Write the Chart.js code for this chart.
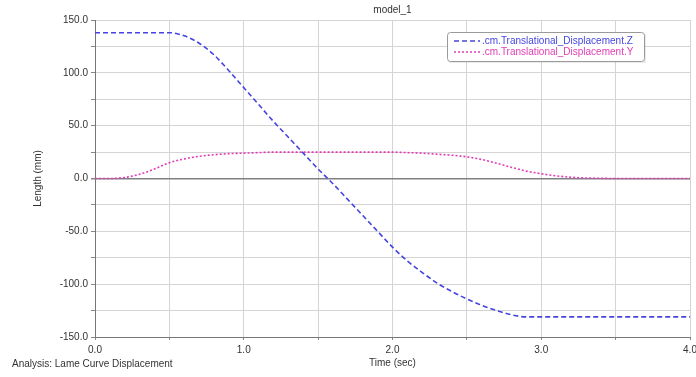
<!DOCTYPE html>
<html>
<head>
<meta charset="utf-8">
<script src="https://cdn.jsdelivr.net/npm/chart.js@4/dist/chart.umd.min.js"></script>
<style>
  html, body { margin: 0; padding: 0; background: #fff; }
  #wrap { width: 696px; height: 377px; position: relative; }
</style>
</head>
<body>
<div id="wrap"><canvas id="dispChart"></canvas></div>
<script>
// Time axis (sec) and the two displacement curves (mm)
const times = [0.0, 0.1, 0.2, 0.3, 0.4, 0.5, 0.6, 0.7, 0.8, 0.9, 1.0,
               1.1, 1.2, 1.3, 1.4, 1.5, 1.6, 1.7, 1.8, 1.9, 2.0,
               2.1, 2.2, 2.3, 2.4, 2.5, 2.6, 2.7, 2.8, 2.9, 3.0,
               3.1, 3.2, 3.3, 3.4, 3.5, 3.6, 3.7, 3.8, 3.9, 4.0];
const dispZ = [138, 138, 138, 138, 138, 138, 135, 128, 117, 102, 86,
               70, 54, 39, 24, 9, -5, -20, -35, -50, -65,
               -78, -89, -99, -107, -114, -120, -125, -129, -131, -131,
               -131, -131, -131, -131, -131, -131, -131, -131, -131, -131];
const dispY = [0, 0, 1, 4, 9, 15, 18.5, 21, 22.5, 23.5, 24,
               24.5, 25, 25, 25, 25, 25, 25, 25, 25, 25,
               24.5, 24, 23, 22, 20.5, 18, 14.5, 10.5, 7, 4.5,
               2.5, 1.2, 0.5, 0.2, 0, 0, 0, 0, 0, 0];
const seriesNames = ['.cm.Translational_Displacement.Z', '.cm.Translational_Displacement.Y'];
const xTicks = [0, 0.5, 1, 1.5, 2, 2.5, 3, 3.5, 4];
const yTicks = [-150, -125, -100, -75, -50, -25, 0, 25, 50, 75, 100, 125, 150];

const zColor = '#4545e0';
const yColor = '#e23cb4';
const FONT = 'Liberation Sans, Arial, sans-serif';

// legend box in the upper right + footnote text
const extrasPlugin = {
  id: 'extras',
  afterDraw(chart) {
    const ctx = chart.ctx;
    ctx.save();
    // legend frame
    const bx = 447, by = 32, bw = 197, bh = 29;
    ctx.fillStyle = 'rgba(0,0,0,0.08)';
    ctx.fillRect(bx + 2, by + 2, bw, bh);
    ctx.fillStyle = '#fff';
    ctx.strokeStyle = '#9a9a9a';
    ctx.lineWidth = 1;
    ctx.beginPath();
    ctx.roundRect(bx + 0.5, by + 0.5, bw, bh, 3);
    ctx.fill();
    ctx.stroke();
    ctx.font = '10px ' + FONT;
    ctx.textBaseline = 'middle';
    chart.data.datasets.forEach((ds, i) => {
      const ly = 41 + i * 11;
      ctx.strokeStyle = ds.borderColor;
      ctx.lineWidth = 1.5;
      ctx.setLineDash(ds.borderDash);
      ctx.beginPath();
      ctx.moveTo(454, ly);
      ctx.lineTo(480, ly);
      ctx.stroke();
      ctx.setLineDash([]);
      ctx.fillStyle = ds.borderColor;
      ctx.fillText(ds.label, 482, ly);
    });
    // analysis footnote
    ctx.fillStyle = '#333';
    ctx.fillText('Analysis: Lame Curve Displacement', 12, 364);
    ctx.restore();
  }
};

const ctx = document.getElementById('dispChart').getContext('2d');
new Chart(ctx, {
  type: 'line',
  data: {
    datasets: [{
      label: seriesNames[0],
      data: times.map((t, i) => ({ x: t, y: dispZ[i] })),
      borderColor: zColor,
      borderWidth: 1.6,
      borderDash: [5, 3],
      pointRadius: 0,
      cubicInterpolationMode: 'monotone',
      fill: false
    }, {
      label: seriesNames[1],
      data: times.map((t, i) => ({ x: t, y: dispY[i] })),
      borderColor: yColor,
      borderWidth: 1.6,
      borderDash: [2, 2],
      pointRadius: 0,
      cubicInterpolationMode: 'monotone',
      fill: false
    }]
  },
  options: {
    responsive: true,
    maintainAspectRatio: false,
    animation: false,
    layout: { padding: { top: 2, right: 6, bottom: 0, left: 0 } },
    scales: {
      x: {
        type: 'linear',
        min: 0,
        max: 4,
        afterBuildTicks: s => { s.ticks = xTicks.map(v => ({ value: v })); },
        afterFit: s => { s.height = 40; s.paddingRight = 0; s.paddingLeft = 0; },
        grid: {
          color: '#d4d4d4',
          tickLength: 3,
          tickColor: '#888'
        },
        border: { color: '#777', width: 1 },
        ticks: {
          autoSkip: false,
          maxRotation: 0,
          padding: 4,
          color: '#333',
          font: { size: 10, family: FONT },
          callback: v => (v % 1 === 0 ? v.toFixed(1) : '')
        },
        title: {
          display: true,
          text: 'Time (sec)',
          color: '#333',
          font: { size: 10, family: FONT },
          padding: { top: 0, bottom: 8 }
        }
      },
      y: {
        min: -150,
        max: 150,
        afterBuildTicks: s => { s.ticks = yTicks.map(v => ({ value: v })); },
        afterFit: s => { s.width = 95; },
        grid: {
          color: c => (c.tick && c.tick.value === 0 ? '#808080' : '#d4d4d4'),
          lineWidth: c => (c.tick && c.tick.value === 0 ? 1.5 : 1),
          tickLength: 4,
          tickColor: '#888'
        },
        border: { color: '#777', width: 1 },
        ticks: {
          autoSkip: false,
          padding: 3,
          color: '#333',
          font: { size: 10, family: FONT },
          callback: v => (v % 50 === 0 ? v.toFixed(1) : '')
        },
        title: {
          display: true,
          text: 'Length (mm)',
          color: '#333',
          font: { size: 10, family: FONT },
          padding: { top: 32, bottom: 0 }
        }
      }
    },
    plugins: {
      legend: { display: false },
      tooltip: { enabled: false },
      title: {
        display: true,
        text: 'model_1',
        fullSize: false,
        color: '#333',
        font: { size: 10, weight: 'normal', family: FONT },
        padding: { top: 2, bottom: 4 }
      }
    }
  },
  plugins: [extrasPlugin]
});
</script>
</body>
</html>
